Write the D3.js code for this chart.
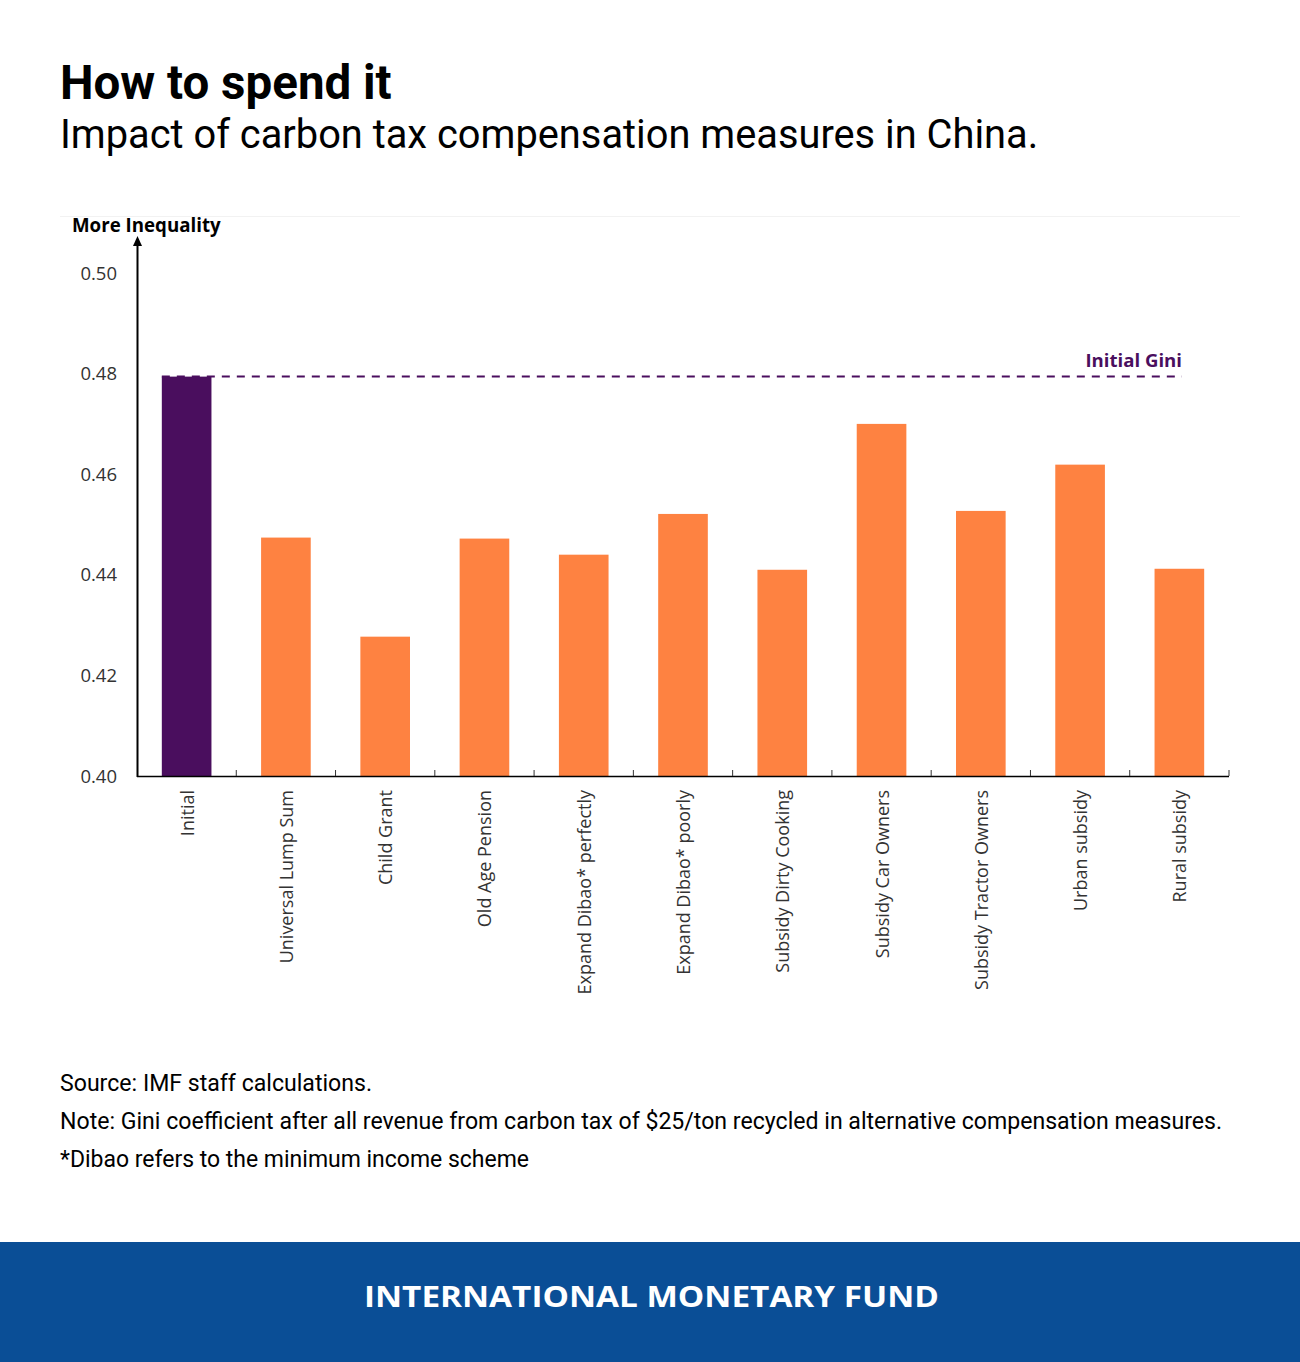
<!DOCTYPE html>
<html>
<head>
<meta charset="utf-8">
<script src="https://cdn.jsdelivr.net/npm/d3@7"></script>
<style>
  html, body { margin: 0; padding: 0; background: #fff; }
  svg { display: block; }
</style>
</head>
<body>
<script>
const categories = ["Initial", "Universal Lump Sum", "Child Grant", "Old Age Pension",
  "Expand Dibao* perfectly", "Expand Dibao* poorly", "Subsidy Dirty Cooking",
  "Subsidy Car Owners", "Subsidy Tractor Owners", "Urban subsidy", "Rural subsidy"];
const giniValues = [0.4794, 0.4474, 0.4277, 0.4472, 0.4440, 0.4521, 0.4410, 0.4700, 0.4527, 0.4619, 0.4412];
const initialGini = 0.4794;
const yTicks = [0.40, 0.42, 0.44, 0.46, 0.48, 0.50];
const title = "How to spend it";
const subtitle = "Impact of carbon tax compensation measures in China.";
const notes = ["Source: IMF staff calculations.",
  "Note: Gini coefficient after all revenue from carbon tax of $25/ton recycled in alternative compensation measures.",
  "*Dibao refers to the minimum income scheme"];

const W = 1300, H = 1362;
const svg = d3.select("body").append("svg").attr("width", W).attr("height", H);
svg.append("rect").attr("width", W).attr("height", H).attr("fill", "#fff");

// Title
svg.append("text").attr("x", 60).attr("y", 99).text(title)
  .attr("font-family", "Roboto").attr("font-weight", 700).attr("font-size", 47.5).attr("fill", "#000");
svg.append("text").attr("x", 60).attr("y", 148).text(subtitle)
  .attr("font-family", "Roboto").attr("font-weight", 400).attr("font-size", 39.8).attr("fill", "#000");

// faint frame line
svg.append("line").attr("x1", 60).attr("x2", 1240).attr("y1", 216.5).attr("y2", 216.5)
  .attr("stroke", "#f2f2f2").attr("stroke-width", 1);

const chartFont = "'Open Sans', 'Noto Sans', sans-serif";
const x = d3.scaleBand().domain(categories).range([137, 1229]).paddingInner(0.5).paddingOuter(0.25);
const y = d3.scaleLinear().domain([0.40, 0.50]).range([776, 273]);

// bars
svg.append("g").selectAll("rect").data(categories).join("rect")
  .attr("x", d => x(d))
  .attr("width", x.bandwidth())
  .attr("y", (d, i) => y(giniValues[i]))
  .attr("height", (d, i) => y(0.40) - y(giniValues[i]))
  .attr("fill", (d, i) => i === 0 ? "#4a0e5e" : "#fe8241");

// x axis
const xAxis = svg.append("g");
xAxis.append("line").attr("x1", 137).attr("x2", 1229).attr("y1", 776.5).attr("y2", 776.5)
  .attr("stroke", "#000").attr("stroke-width", 1.5);
const boundaries = categories.map(d => x(d) + x.bandwidth() + x.step() * x.paddingInner() / 2);
xAxis.selectAll("line.tk").data(boundaries).join("line").attr("class", "tk")
  .attr("x1", d => d).attr("x2", d => d).attr("y1", 776).attr("y2", 770)
  .attr("stroke", "#333").attr("stroke-width", 1);
xAxis.selectAll("text").data(categories).join("text")
  .attr("transform", d => `translate(${x(d) + x.bandwidth() / 2 + 7},790) rotate(-90)`)
  .attr("text-anchor", "end")
  .attr("font-family", chartFont).attr("font-size", 18).attr("fill", "#333")
  .text(d => d);

// y axis
const yAxis = svg.append("g");
yAxis.append("line").attr("x1", 137.5).attr("x2", 137.5).attr("y1", 777).attr("y2", 244)
  .attr("stroke", "#000").attr("stroke-width", 2);
yAxis.append("path").attr("d", "M137.5,236 L133,246 L142,246 Z").attr("fill", "#000");
yAxis.selectAll("text").data(yTicks).join("text")
  .attr("x", 117).attr("y", d => y(d) + 6.5)
  .attr("text-anchor", "end")
  .attr("font-family", chartFont).attr("font-size", 18.5).attr("fill", "#333")
  .text(d => d3.format(".2f")(d));
svg.append("text").attr("x", 72).attr("y", 232).text("More Inequality")
  .attr("font-family", chartFont).attr("font-weight", 700).attr("font-size", 18.7).attr("fill", "#000");

// initial gini reference line
svg.append("line")
  .attr("x1", x(categories[0])).attr("x2", 1182)
  .attr("y1", y(initialGini)).attr("y2", y(initialGini))
  .attr("stroke", "#4a0e5e").attr("stroke-width", 2).attr("stroke-dasharray", "8,7");
svg.append("text").attr("x", 1182).attr("y", 367).attr("text-anchor", "end")
  .text("Initial Gini")
  .attr("font-family", chartFont).attr("font-weight", 700).attr("font-size", 18.6).attr("fill", "#4a0e5e");

// notes
const noteWidths = [312, 1162, 469];
svg.append("g").selectAll("text").data(notes).join("text")
  .attr("x", 60).attr("y", (d, i) => 1091 + i * 38)
  .attr("font-family", "Roboto").attr("font-size", 23).attr("fill", "#000")
  .attr("textLength", (d, i) => noteWidths[i]).attr("lengthAdjust", "spacingAndGlyphs")
  .text(d => d);

// IMF banner
svg.append("rect").attr("x", 0).attr("y", 1242).attr("width", W).attr("height", 120).attr("fill", "#0a4e96");
svg.append("text").attr("x", 364).attr("y", 1307)
  .attr("font-family", "'Open Sans', sans-serif").attr("font-weight", 700).attr("font-size", 29)
  .attr("fill", "#fff").attr("textLength", 575).attr("lengthAdjust", "spacingAndGlyphs")
  .text("INTERNATIONAL MONETARY FUND");
</script>
</body>
</html>
